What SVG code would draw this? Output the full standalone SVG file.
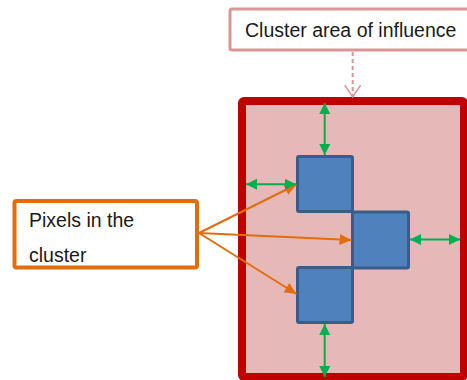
<svg xmlns="http://www.w3.org/2000/svg" width="467" height="380" viewBox="0 0 467 380">
  <style>
    .label { font-family: "Liberation Sans", Arial, sans-serif; font-size: 19.5px; fill: #1a1a1a; }
    .pixel { fill: #4F81BD; stroke: #385D8A; stroke-width: 3; }
    .green { stroke: #00B050; stroke-width: 2; fill: none; marker-start: url(#greenHead); marker-end: url(#greenHead); }
    .orange { stroke: #E46C0A; stroke-width: 2; fill: none; marker-end: url(#orangeHead); }
    .dashed { stroke: #D99694; stroke-width: 2; stroke-dasharray: 4 3; fill: none; marker-end: url(#openHead); }
  </style>
  <defs>
    <marker id="greenHead" markerUnits="userSpaceOnUse" markerWidth="12" markerHeight="12" refX="11" refY="5.5" orient="auto-start-reverse">
      <path d="M0,0 L11,5.5 L0,11 Z" fill="#00B050"/>
    </marker>
    <marker id="orangeHead" markerUnits="userSpaceOnUse" markerWidth="13" markerHeight="12" refX="12" refY="5.5" orient="auto">
      <path d="M0,0 L12,5.5 L0,11 Z" fill="#E46C0A"/>
    </marker>
    <marker id="openHead" markerUnits="userSpaceOnUse" markerWidth="20" markerHeight="20" refX="12" refY="9" orient="auto">
      <path d="M0,1 L12,9 L0,17" fill="none" stroke="#D99694" stroke-width="1.5"/>
    </marker>
  </defs>

  <!-- cluster area of influence -->
  <g id="cluster-area">
    <rect x="242" y="101" width="222" height="276" rx="2" fill="#E6B9B8" stroke="#C00000" stroke-width="8"/>
  </g>

  <!-- pixels belonging to the cluster -->
  <g id="pixel-1"><rect class="pixel" x="297.5" y="156.5" width="55" height="55" rx="1.5"/></g>
  <g id="pixel-2"><rect class="pixel" x="352.5" y="212" width="56" height="56" rx="1.5"/></g>
  <g id="pixel-3"><rect class="pixel" x="297.5" y="267.5" width="55" height="55" rx="1.5"/></g>

  <!-- callout labels -->
  <g id="influence-label">
    <rect x="230" y="9" width="245" height="41" rx="2" fill="#FFFFFF" stroke="#D99694" stroke-width="3"/>
    <text class="label" x="245" y="36.5">Cluster area of influence</text>
  </g>
  <g id="pixels-label">
    <rect x="14.5" y="201" width="182.5" height="66.5" rx="2" fill="#FFFFFF" stroke="#E46C0A" stroke-width="4"/>
    <text class="label" x="29" y="227">Pixels in the</text>
    <text class="label" x="29" y="262">cluster</text>
  </g>

  <g id="connectors">
    <!-- label to area -->
    <path class="dashed" d="M352.7,52 L352.7,97"/>
    <!-- label to pixels -->
    <path class="orange" d="M199,233 L296.5,184.5"/>
    <path class="orange" d="M199,233 L351.5,240"/>
    <path class="orange" d="M199,233 L296.5,294"/>
    <!-- margins to the area border -->
    <path class="green" d="M324.7,103 L324.7,155"/>
    <path class="green" d="M246,184.3 L296,184.3"/>
    <path class="green" d="M410,239.5 L460,239.5"/>
    <path class="green" d="M324.7,324 L324.7,377"/>
  </g>
</svg>
